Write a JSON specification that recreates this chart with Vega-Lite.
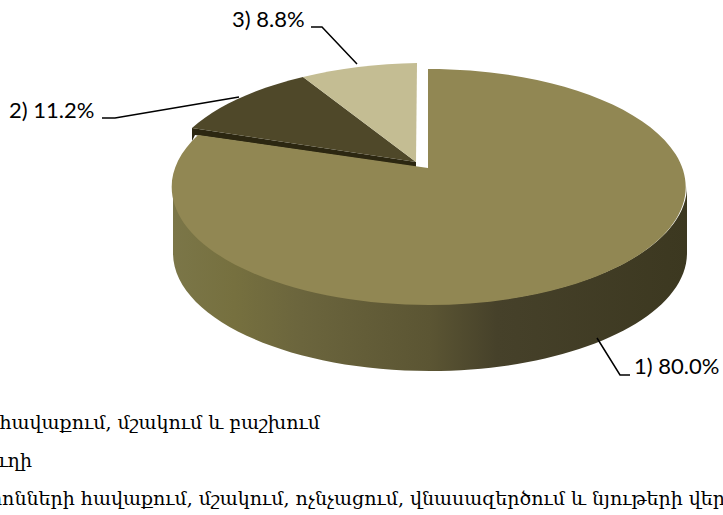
{
"$schema":"https://vega.github.io/schema/vega-lite/v6.json",
"width":723,"height":515,"padding":0,"autosize":{"type":"none"},
"background":"white",
"config":{"view":{"stroke":null}},
"datasets":{"slices":[
{"slice":"2","share":11.2,"label":"2) 11.2%","category":"Կոյուղի"},
{"slice":"3","share":8.8,"label":"3) 8.8%","category":"Թափոնների հավաքում, մշակում, ոչնչացում, վնասազերծում և նյութերի վերականգնում"},
{"slice":"1","share":80.0,"label":"1) 80.0%","category":"Ջրի հավաքում, մշակում և բաշխում"}
]},
"data":{"name":"slices"},
"encoding":{
"x":{"datum":430,"type":"quantitative","scale":{"domain":[0,723]},"axis":null},
"y":{"datum":186,"type":"quantitative","scale":{"domain":[515,0]},"axis":null}
},
"layer":[
{"transform":[{"filter":"datum.slice==='1'"}],
"mark":{"type":"point","filled":true,"opacity":1,"size":4,
"shape":"M-257,0 A257,118 0 0 0 257,0 L257,67 A257,118 0 0 1 -257,67 Z",
"fill":{"gradient":"linear","x1":0,"y1":0,"x2":1,"y2":0,"stops":[{"offset":0,"color":"#7b7648"},{"offset":0.12,"color":"#76703f"},{"offset":0.25,"color":"#6b653d"},{"offset":0.5,"color":"#5b5533"},{"offset":0.63,"color":"#46412a"},{"offset":1,"color":"#3c3820"}]}}},
{"transform":[{"filter":"datum.slice==='2'"}],
"mark":{"type":"point","filled":true,"opacity":1,"size":4,"fill":"#2c2711",
"shape":"M-238,-58 L-14,-24 L-14,-19 L-235,-51 L-238,-45 Z"}},
{"mark":{"type":"point","filled":true,"opacity":1,"size":4},
"encoding":{
"shape":{"field":"slice","type":"nominal","legend":null,"scale":{"domain":["1","2","3"],"range":[
"M-2,-18 L-2,-117 A257,118 0 1 1 -232,-51 Z",
"M-14,-24 L-238,-58 A257,118 0 0 1 -127,-109 Z",
"M-14,-24 L-127,-109 A257,118 0 0 1 -13,-123 Z"]}},
"color":{"field":"slice","type":"nominal","legend":null,"scale":{"domain":["1","2","3"],"range":["#918753","#4f4829","#c4bd93"]}}}},
{"mark":{"type":"point","filled":false,"opacity":1,"size":4,"stroke":"black","strokeWidth":1.5,"fill":null,
"shape":"M167,152 L190,189 L200,189"},
"transform":[{"filter":"datum.slice==='1'"}]},
{"mark":{"type":"point","filled":false,"opacity":1,"size":4,"stroke":"black","strokeWidth":1.5,"fill":null,
"shape":"M-328,-68 L-315,-68 L-191,-89"},
"transform":[{"filter":"datum.slice==='2'"}]},
{"mark":{"type":"point","filled":false,"opacity":1,"size":4,"stroke":"black","strokeWidth":1.5,"fill":null,
"shape":"M-119,-159 L-108,-159 L-73,-122"},
"transform":[{"filter":"datum.slice==='3'"}]},
{"transform":[{"filter":"datum.slice==='1'"}],"mark":{"type":"text","font":"Lato","fontSize":22,"align":"left","baseline":"middle","color":"black"},
"encoding":{"text":{"field":"label"},"x":{"datum":634,"type":"quantitative"},"y":{"datum":367,"type":"quantitative"}}},
{"transform":[{"filter":"datum.slice==='2'"}],"mark":{"type":"text","font":"Lato","fontSize":22,"align":"left","baseline":"middle","color":"black"},
"encoding":{"text":{"field":"label"},"x":{"datum":9,"type":"quantitative"},"y":{"datum":111,"type":"quantitative"}}},
{"transform":[{"filter":"datum.slice==='3'"}],"mark":{"type":"text","font":"Lato","fontSize":22,"align":"left","baseline":"middle","color":"black"},
"encoding":{"text":{"field":"label"},"x":{"datum":232,"type":"quantitative"},"y":{"datum":20,"type":"quantitative"}}},
{"transform":[{"filter":"datum.slice==='1'"}],"mark":{"type":"text","font":"DejaVu Serif","fontSize":19,"align":"right","baseline":"middle","color":"black"},
"encoding":{"text":{"field":"category"},"x":{"datum":320,"type":"quantitative"},"y":{"datum":423,"type":"quantitative"}}},
{"transform":[{"filter":"datum.slice==='2'"}],"mark":{"type":"text","font":"DejaVu Serif","fontSize":19,"align":"right","baseline":"middle","color":"black"},
"encoding":{"text":{"field":"category"},"x":{"datum":32,"type":"quantitative"},"y":{"datum":461,"type":"quantitative"}}},
{"transform":[{"filter":"datum.slice==='3'"}],"mark":{"type":"text","font":"DejaVu Serif","fontSize":19,"align":"left","baseline":"middle","color":"black"},
"encoding":{"text":{"field":"category"},"x":{"datum":-52,"type":"quantitative"},"y":{"datum":499,"type":"quantitative"}}}
]
}
